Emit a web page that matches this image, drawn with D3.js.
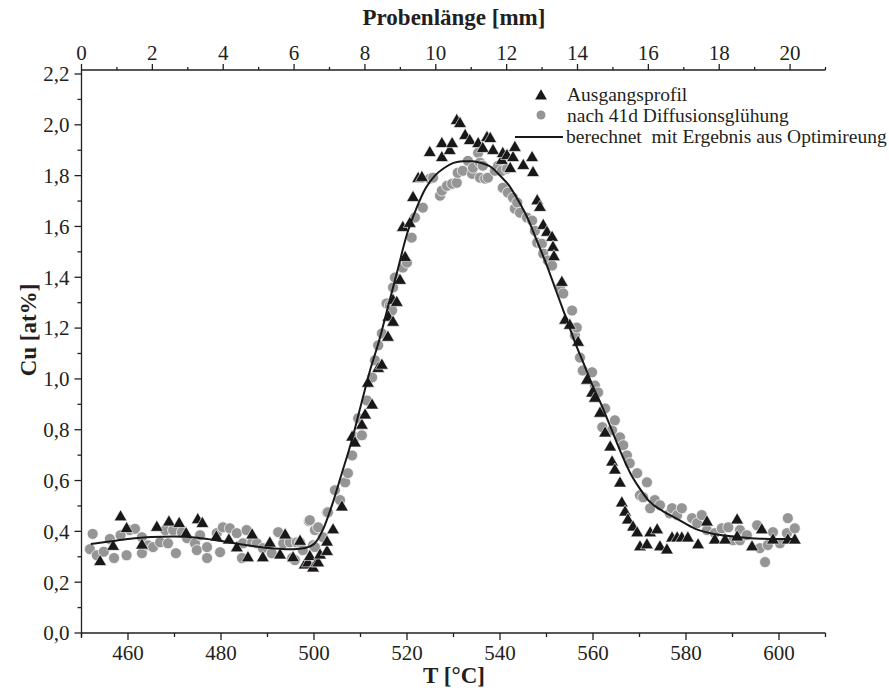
<!DOCTYPE html>
<html>
<head>
<meta charset="utf-8">
<script src="https://cdn.jsdelivr.net/npm/d3@7"></script>
<style>
  body { margin: 0; background: #fff; }
  svg text { font-family: "Liberation Serif", "Times New Roman", serif; fill: #231f20; }
</style>
</head>
<body>
<div id="chart"></div>
<script>
// Ausgangsprofil (triangles), [T, Cu]
var triangles = [
  [454.0,0.28],[456.8,0.34],[458.4,0.456],[459.7,0.41],[463.0,0.345],[466.2,0.415],[468.8,0.436],
  [471.0,0.43],[472.5,0.39],[475.0,0.445],[476.0,0.43],[479.0,0.377],[481.7,0.365],[483.4,0.334],
  [485.8,0.295],[486.7,0.385],[489.0,0.295],[490.5,0.353],[492.7,0.306],[493.8,0.385],[495.5,0.295],
  [497.0,0.36],[498.0,0.267],[498.7,0.275],[499.1,0.30],[499.8,0.255],[500.6,0.275],[500.9,0.275],
  [501.3,0.306],[502.8,0.32],[502.8,0.357],[504.1,0.405],[506.0,0.495],[508.2,0.77],[508.8,0.747],
  [510.3,0.817],[511.0,0.857],[511.6,0.982],[512.5,0.896],[513.8,1.04],[514.6,1.053],[515.9,1.163],
  [516.0,1.242],[517.0,1.222],[517.0,1.308],[517.8,1.30],[518.5,1.387],[519.6,1.477],[519.1,1.595],
  [520.6,1.611],[521.3,1.713],[522.4,1.788],[523.2,1.792],[524.9,1.89],[527.5,1.87],[527.5,1.925],
  [529.2,1.898],[529.7,1.925],[530.7,2.016],[531.4,2.004],[532.5,1.957],[533.5,1.937],[535.3,1.925],
  [536.3,1.906],[537.2,1.949],[537.9,1.945],[538.5,1.898],[540.4,1.859],[540.6,1.886],[541.5,1.878],
  [542.2,1.827],[542.8,1.87],[543.2,1.91],[545.0,1.839],[546.9,1.87],[547.1,1.811],[548.0,1.70],
  [548.6,1.674],[549.3,1.603],[550.1,1.576],[551.2,1.556],[551.4,1.517],[551.6,1.48],[553.3,1.379],
  [554.0,1.23],[555.0,1.21],[556.8,1.143],[558.7,0.994],[559.8,0.943],[560.4,0.923],[561.5,0.864],
  [562.6,0.786],[563.7,0.731],[564.1,0.672],[564.7,0.64],[565.8,0.589],[566.2,0.511],[566.9,0.475],
  [567.5,0.444],[568.6,0.416],[569.5,0.393],[570.1,0.338],[571.6,0.346],[572.3,0.393],[573.8,0.405],
  [574.4,0.338],[575.9,0.326],[577.0,0.373],[578.1,0.373],[579.1,0.373],[580.4,0.373],[582.6,0.346],
  [584.5,0.436],[586.2,0.365],[588.4,0.365],[591.0,0.444],[591.0,0.377],[594.2,0.338],[596.3,0.405],
  [598.7,0.365],[601.9,0.365],[603.4,0.365]
];

// nach 41d Diffusionsglühung (circles), [T, Cu]
var circles = [
  [451.8,0.33],[452.4,0.39],[453.3,0.306],[454.8,0.32],[456.1,0.37],[457.0,0.295],[458.4,0.385],
  [459.7,0.306],[460.4,0.405],[461.5,0.41],[463.0,0.377],[463.0,0.314],[464.3,0.345],[465.4,0.338],
  [466.9,0.357],[468.0,0.405],[468.6,0.353],[469.7,0.405],[470.3,0.314],[471.6,0.397],[472.7,0.373],
  [474.4,0.353],[474.8,0.326],[475.5,0.385],[477.0,0.338],[477.0,0.295],[479.1,0.393],[479.8,0.318],
  [480.4,0.416],[481.9,0.412],[483.4,0.393],[484.5,0.295],[484.7,0.353],[485.5,0.405],[486.7,0.357],
  [487.7,0.353],[489.0,0.334],[490.9,0.314],[492.3,0.397],[493.4,0.353],[494.8,0.357],[495.3,0.295],
  [495.9,0.287],[496.3,0.357],[497.0,0.357],[497.6,0.326],[498.9,0.44],[499.1,0.444],[499.8,0.345],
  [500.2,0.338],[500.2,0.405],[500.9,0.416],[501.9,0.377],[502.8,0.475],[503.0,0.475],[504.5,0.562],
  [505.6,0.523],[506.7,0.593],[507.3,0.629],[508.2,0.699],[508.8,0.77],[509.5,0.845],[510.3,0.778],
  [511.4,0.915],[512.5,1.006],[513.1,1.073],[513.8,1.132],[514.6,1.179],[515.6,1.297],[516.3,1.289],
  [516.8,1.27],[517.0,1.36],[517.4,1.399],[519.1,1.438],[520.0,1.458],[521.0,1.556],[521.7,1.635],
  [523.4,1.674],[524.9,1.788],[525.6,1.792],[527.1,1.721],[527.5,1.741],[528.6,1.76],[529.7,1.768],
  [530.7,1.772],[530.9,1.811],[532.0,1.819],[533.1,1.858],[534.0,1.807],[534.2,1.831],[535.3,1.89],
  [535.7,1.851],[535.7,1.792],[536.3,1.839],[536.8,1.788],[537.4,1.792],[538.9,1.819],[539.6,1.839],
  [540.4,1.819],[540.6,1.752],[541.5,1.827],[541.7,1.733],[542.8,1.713],[543.2,1.67],[543.7,1.694],
  [544.3,1.654],[545.8,1.635],[546.9,1.623],[547.5,1.583],[548.0,1.536],[549.0,1.532],[549.3,1.493],
  [550.3,1.466],[551.2,1.446],[552.9,1.36],[553.6,1.336],[555.5,1.269],[556.1,1.171],[556.5,1.202],
  [557.2,1.084],[557.8,1.033],[559.8,1.026],[560.4,0.974],[561.1,0.947],[562.0,0.81],[562.6,0.884],
  [564.1,0.798],[564.7,0.837],[565.8,0.77],[566.5,0.739],[567.3,0.699],[567.9,0.668],[569.5,0.629],
  [570.1,0.542],[570.8,0.534],[571.6,0.593],[572.3,0.491],[573.3,0.523],[574.4,0.503],[576.5,0.471],
  [577.0,0.491],[578.1,0.464],[579.1,0.491],[581.3,0.452],[582.4,0.432],[583.4,0.464],[584.5,0.405],
  [586.2,0.393],[587.7,0.412],[589.1,0.416],[590.1,0.365],[591.6,0.405],[591.6,0.365],[593.1,0.385],
  [595.3,0.424],[595.9,0.334],[597.0,0.279],[597.6,0.346],[598.7,0.397],[600.2,0.353],[601.7,0.393],
  [601.9,0.452],[603.4,0.412]
];

// berechnet mit Ergebnis aus Optimireung (line), [T, Cu]
var calculated = [
  [452,0.35],[456,0.36],[460,0.37],[465,0.378],[470,0.38],[475,0.375],[480,0.362],[485,0.347],
  [490,0.335],[494,0.33],[497,0.332],[499,0.34],[500,0.35],[502,0.41],[504,0.51],[506,0.63],
  [508,0.75],[510,0.89],[512,1.03],[514,1.15],[516,1.29],[518,1.43],[520,1.57],[522,1.67],
  [524,1.75],[526,1.80],[528,1.83],[530,1.85],[532,1.857],[534,1.857],[536,1.85],[538,1.835],
  [540,1.80],[542,1.76],[544,1.70],[546,1.63],[548,1.54],[550,1.45],[552,1.35],[554,1.25],
  [556,1.15],[558,1.06],[560,0.97],[562,0.89],[564,0.80],[566,0.71],[568,0.63],[570,0.57],
  [572,0.52],[575,0.48],[578,0.45],[582,0.41],[586,0.39],[590,0.38],[595,0.372],[600,0.37],[603,0.37]
];

var legendLabels = ["Ausgangsprofil", "nach 41d Diffusionsglühung", "berechnet  mit Ergebnis aus Optimireung"];

var W = 889, H = 688;
var plotL = 81.5, plotR = 825.5, plotT = 70, plotB = 633;

var svg = d3.select("#chart").append("svg")
  .attr("width", W)
  .attr("height", H);

var x = d3.scaleLinear().domain([450, 610]).range([plotL, plotR]);
var xmm = d3.scaleLinear().domain([0, 21]).range([plotL, plotR]);
var y = d3.scaleLinear().domain([0, 2.2]).range([plotB, 74]);

var ink = "#231f20";
var comma = function(v) { return d3.format(".1f")(v).replace(".", ","); };

// Bottom axis (T)
var xTicks = d3.range(450, 611, 10);
var bAxis = svg.append("g").attr("transform", "translate(0," + plotB + ")");
bAxis.append("line").attr("x1", plotL).attr("x2", plotR).attr("stroke", ink).attr("stroke-width", 1.3);
bAxis.selectAll("line.t").data(xTicks).enter().append("line")
  .attr("class", "t")
  .attr("x1", function(d) { return x(d); }).attr("x2", function(d) { return x(d); })
  .attr("y1", 0).attr("y2", function(d) { return (d % 20 == 0 && d != 450) ? 7 : 4; })
  .attr("stroke", ink).attr("stroke-width", 1.3);
bAxis.selectAll("text").data(xTicks.filter(function(d) { return d % 20 == 0 && d != 450 && d != 610; }))
  .enter().append("text")
  .attr("x", function(d) { return x(d); })
  .attr("y", 27)
  .attr("text-anchor", "middle")
  .style("font-size", "21px")
  .text(function(d) { return d; });

// Top axis (mm)
var mmTicks = d3.range(0, 22, 1);
var tAxis = svg.append("g").attr("transform", "translate(0," + plotT + ")");
tAxis.append("line").attr("x1", plotL).attr("x2", plotR).attr("stroke", ink).attr("stroke-width", 1.3);
tAxis.selectAll("line.t").data(mmTicks).enter().append("line")
  .attr("class", "t")
  .attr("x1", function(d) { return xmm(d); }).attr("x2", function(d) { return xmm(d); })
  .attr("y1", 0).attr("y2", function(d) { return (d % 2 == 0) ? -6 : -3; })
  .attr("stroke", ink).attr("stroke-width", 1.3);
tAxis.selectAll("text").data(mmTicks.filter(function(d) { return d % 2 == 0; }))
  .enter().append("text")
  .attr("x", function(d) { return xmm(d); })
  .attr("y", -10)
  .attr("text-anchor", "middle")
  .style("font-size", "21px")
  .text(function(d) { return d; });

// Left axis (Cu)
var yTicks = d3.range(0, 23).map(function(i) { return i / 10; });
var lAxis = svg.append("g").attr("transform", "translate(" + plotL + ",0)");
lAxis.append("line").attr("y1", plotT).attr("y2", plotB + 5).attr("stroke", ink).attr("stroke-width", 1.3);
lAxis.selectAll("line.t").data(yTicks).enter().append("line")
  .attr("class", "t")
  .attr("y1", function(d) { return y(d); }).attr("y2", function(d) { return y(d); })
  .attr("x1", 0).attr("x2", function(d, i) { return (i % 2 == 0) ? -7 : -4; })
  .attr("stroke", ink).attr("stroke-width", 1.3);
lAxis.selectAll("text").data(yTicks.filter(function(d, i) { return i % 2 == 0; }))
  .enter().append("text")
  .attr("x", -12)
  .attr("y", function(d) { return y(d); })
  .attr("dy", "0.35em")
  .attr("text-anchor", "end")
  .style("font-size", "21px")
  .text(comma);

// Axis titles
svg.append("text")
  .attr("x", 454).attr("y", 25)
  .attr("text-anchor", "middle")
  .style("font-size", "23px").style("font-weight", "bold")
  .text("Probenlänge [mm]");
svg.append("text")
  .attr("x", 454).attr("y", 683)
  .attr("text-anchor", "middle")
  .style("font-size", "23px").style("font-weight", "bold")
  .text("T [°C]");
svg.append("text")
  .attr("transform", "translate(36,330) rotate(-90)")
  .attr("text-anchor", "middle")
  .style("font-size", "23px").style("font-weight", "bold")
  .text("Cu [at%]");

// Data: circles
svg.append("g").selectAll("circle").data(circles).enter().append("circle")
  .attr("cx", function(d) { return x(d[0]); })
  .attr("cy", function(d) { return y(d[1]); })
  .attr("r", 5.5)
  .attr("fill", "#959595")
  .attr("stroke", "#fff").attr("stroke-width", 0.7);

// Data: triangles
var tri = d3.symbol().type(d3.symbolTriangle).size(72);
svg.append("g").selectAll("path").data(triangles).enter().append("path")
  .attr("d", tri)
  .attr("transform", function(d) { return "translate(" + x(d[0]) + "," + y(d[1]) + ")"; })
  .attr("fill", "#1a1718")
  .attr("stroke", "#fff").attr("stroke-width", 0.6);

// Calculated line
svg.append("path")
  .datum(calculated)
  .attr("fill", "none")
  .attr("stroke", "#1a1718")
  .attr("stroke-width", 2)
  .attr("d", d3.line()
    .curve(d3.curveMonotoneX)
    .x(function(d) { return x(d[0]); })
    .y(function(d) { return y(d[1]); }));

// Legend
var lg = svg.append("g");
lg.append("path").attr("d", d3.symbol().type(d3.symbolTriangle).size(60))
  .attr("transform", "translate(541,96)").attr("fill", "#1a1718");
lg.append("circle").attr("cx", 541).attr("cy", 115).attr("r", 4.5).attr("fill", "#959595");
lg.append("line").attr("x1", 515).attr("x2", 563).attr("y1", 137).attr("y2", 137)
  .attr("stroke", "#1a1718").attr("stroke-width", 2);
lg.selectAll("text").data(legendLabels).enter().append("text")
  .attr("x", function(d, i) { return i == 2 ? 566 : 567; })
  .attr("y", function(d, i) { return 101 + i * 21; })
  .attr("xml:space", "preserve")
  .style("white-space", "pre")
  .style("font-size", "19.5px")
  .text(function(d) { return d; });
</script>
</body>
</html>
